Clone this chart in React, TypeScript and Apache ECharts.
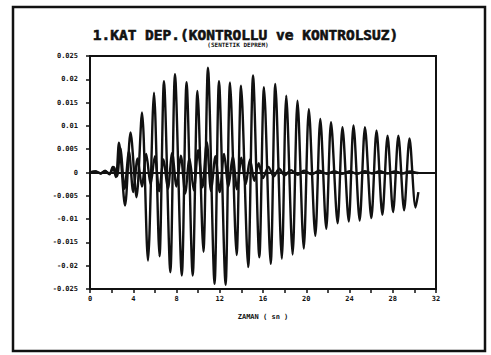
import React, { useEffect, useRef } from "react";
import * as echarts from "echarts";

const titleText = "1.KAT DEP.(KONTROLLU ve KONTROLSUZ)";
const subtitleText = "(SENTETIK DEPREM)";
const xAxisName = "ZAMAN ( sn )";

// Uncontrolled response (KONTROLSUZ): extrema
const uncontrolledT = [
  0, 0.5, 1.0, 1.4, 1.8, 2.1, 2.4, 2.68, 3.24, 3.75, 4.3, 4.81, 5.36, 5.92, 6.43, 6.84,
  7.43, 7.86, 8.49, 8.93, 9.5, 9.94, 10.49, 10.91, 11.52, 11.93, 12.54, 12.95, 13.56,
  13.97, 14.63, 15.08, 15.66, 16.09, 16.71, 17.14, 17.74, 18.15, 18.74, 19.19, 19.77,
  20.24, 20.84, 21.3, 21.85, 22.29, 22.9, 23.35, 23.93, 24.37, 24.94, 25.43, 26.02,
  26.5, 27.04, 27.52, 28.03, 28.52, 29.05, 29.55, 30.11, 30.37,
];
const uncontrolledV = [
  0, 0.0002, -0.0002, 0.0004, -0.0004, 0.0012, -0.0010, 0.0064, -0.0071, 0.0086, -0.0053,
  0.0129, -0.0189, 0.0171, -0.018, 0.0196, -0.0214, 0.0211, -0.0221, 0.0194, -0.0221,
  0.0175, -0.017, 0.0225, -0.0239, 0.0196, -0.0241, 0.0193, -0.0177, 0.0186, -0.0203,
  0.0208, -0.0182, 0.0183, -0.0196, 0.019, -0.0185, 0.0165, -0.0176, 0.0154, -0.0163,
  0.0136, -0.0136, 0.0115, -0.0121, 0.0108, -0.0109, 0.0097, -0.0105, 0.0101, -0.0103,
  0.0097, -0.0098, 0.009, -0.0091, 0.0079, -0.0085, 0.0079, -0.0081, 0.0073, -0.0075,
  -0.0042,
];

// Controlled response (KONTROLLU): small oscillation around zero
const controlledT = [
  0, 0.5, 1.0, 1.4, 1.8, 2.2, 2.5, 2.8, 3.2, 3.6, 4.0, 4.4, 4.8, 5.2, 5.6, 6.0, 6.4,
  6.8, 7.2, 7.6, 8.0, 8.4, 8.8, 9.2, 9.6, 10.0, 10.4, 10.8, 11.2, 11.6, 12.0, 12.4,
  12.8, 13.2, 13.6, 14.0, 14.4, 14.8, 15.2, 15.6, 16.0, 16.5, 17.0, 17.5, 18.0, 18.6,
  19.2, 19.8, 20.5, 21.2, 21.9, 22.6, 23.3, 24.0, 24.7, 25.4, 26.1, 26.8, 27.5, 28.2,
  28.9, 29.6, 30.3, 30.4,
];
const controlledV = [
  0, 0.0002, -0.0002, 0.0003, -0.0003, 0.0012, -0.0008, 0.0052, -0.0035, 0.0045,
  -0.0042, 0.003, -0.003, 0.004, -0.0025, 0.0035, -0.004, 0.0028, -0.0035, 0.0042,
  -0.003, 0.0036, -0.0045, 0.003, -0.0038, 0.0048, -0.0032, 0.0065, -0.004, 0.0035,
  -0.0042, 0.004, -0.003, 0.0034, -0.0036, 0.0032, -0.0025, 0.0028, -0.0018, 0.002,
  -0.0012, 0.0012, -0.0008, 0.0008, -0.0006, 0.0005, -0.0005, 0.0004, -0.0004, 0.0004,
  -0.0003, 0.0003, -0.0003, 0.0003, -0.0003, 0.0003, -0.0002, 0.0003, -0.0002, 0.0002,
  -0.0002, 0.0002, -0.0001, 0,
];

const FONT = '"DejaVu Sans Mono", monospace';
const INK = "#111111";

export default function App() {
  const ref = useRef<HTMLDivElement>(null);

  useEffect(() => {
    document.body.style.margin = "0";
    if (!ref.current) return;
    const chart = echarts.init(ref.current, undefined, { renderer: "svg" });

    const uncontrolled = uncontrolledT.map((t, i) => [t, uncontrolledV[i]]);
    const controlled = controlledT.map((t, i) => [t, controlledV[i]]);

    chart.setOption({
      animation: false,
      backgroundColor: "#ffffff",
      grid: {
        left: 90,
        top: 56,
        right: 55,
        bottom: 66,
        show: true,
        borderColor: INK,
        borderWidth: 2,
        backgroundColor: "transparent",
      },
      xAxis: {
        type: "value",
        min: 0,
        max: 32,
        interval: 2,
        name: xAxisName,
        nameLocation: "middle",
        nameGap: 24,
        nameTextStyle: { fontFamily: FONT, fontWeight: "bold", fontSize: 7, color: INK },
        axisLine: { onZero: false, lineStyle: { color: INK, width: 2 } },
        axisTick: { show: true, length: 4, lineStyle: { color: INK, width: 1.5 } },
        axisLabel: {
          fontFamily: FONT,
          fontWeight: "bold",
          fontSize: 7,
          color: INK,
          margin: 6,
          formatter: (v: number) => (v % 4 === 0 ? String(v) : ""),
        },
        splitLine: { show: false },
      },
      yAxis: {
        type: "value",
        min: -0.025,
        max: 0.025,
        interval: 0.005,
        axisLine: { onZero: false, lineStyle: { color: INK, width: 2 } },
        axisTick: { show: true, length: 4, lineStyle: { color: INK, width: 1.5 } },
        axisLabel: {
          fontFamily: FONT,
          fontWeight: "bold",
          fontSize: 7,
          color: INK,
          margin: 12,
          formatter: (v: number) => String(Number(v.toFixed(3))),
        },
        splitLine: { show: false },
      },
      graphic: [
        {
          type: "rect",
          shape: { x: 13, y: 7, width: 472, height: 344 },
          style: { fill: "none", stroke: INK, lineWidth: 2.5 },
          silent: true,
        },
        {
          type: "text",
          x: 245.5,
          y: 34.5,
          style: {
            text: titleText,
            font: `bold 14.5px ${FONT}`,
            fill: INK,
            stroke: INK,
            lineWidth: 0.6,
            align: "center",
            verticalAlign: "middle",
          },
        },
        {
          type: "text",
          x: 238,
          y: 44.5,
          style: {
            text: subtitleText,
            font: `bold 6px ${FONT}`,
            fill: INK,
            align: "center",
            verticalAlign: "middle",
          },
        },
      ],
      series: [
        {
          name: "KONTROLSUZ",
          type: "line",
          data: uncontrolled,
          showSymbol: false,
          smooth: 0.3,
          lineStyle: { color: INK, width: 2.4 },
          markLine: {
            silent: true,
            symbol: "none",
            label: { show: false },
            lineStyle: { color: INK, width: 1.8, type: "solid" },
            data: [{ yAxis: 0 }],
          },
        },
        {
          name: "KONTROLLU",
          type: "line",
          data: controlled,
          showSymbol: false,
          smooth: 0.3,
          lineStyle: { color: INK, width: 2.4 },
        },
      ],
    });

    return () => chart.dispose();
  }, []);

  return <div ref={ref} style={{ width: 491, height: 355 }} />;
}
